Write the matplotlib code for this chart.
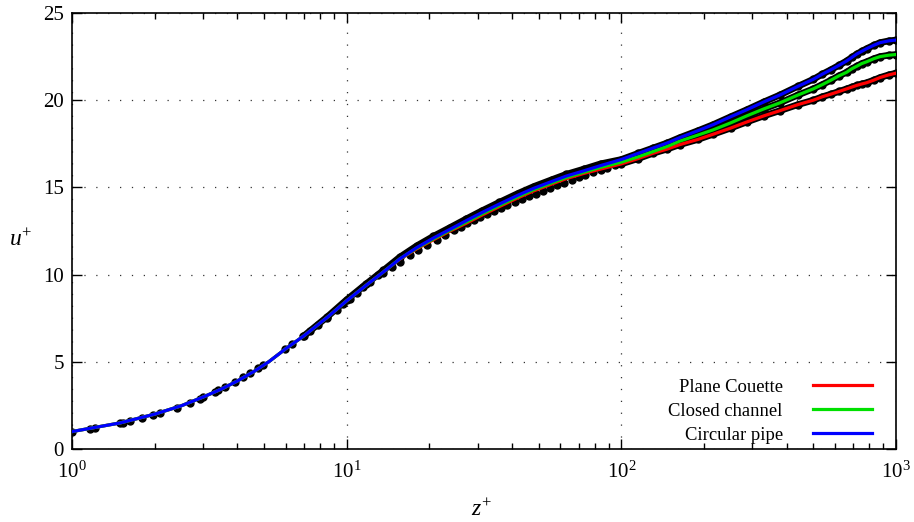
import numpy as np
import matplotlib
matplotlib.use('Agg')
import matplotlib.pyplot as plt
from matplotlib.ticker import LogLocator, LogFormatterMathtext, MultipleLocator, NullFormatter

plt.rcParams['font.family'] = ['Liberation Serif', 'DejaVu Serif']
plt.rcParams['mathtext.fontset'] = 'custom'
plt.rcParams['mathtext.rm'] = 'Liberation Serif'
plt.rcParams['mathtext.it'] = 'Liberation Serif:italic'
plt.rcParams['font.size'] = 13

# perfis de velocidade
z_wall = [1.0, 1.5, 2.0, 2.5, 3.0, 3.5, 4.0, 4.6, 5.2, 6.0, 7.0, 8.5, 10, 11.8,
          13.6, 15.6, 18, 20.7, 23.8, 27.3, 31, 36, 42, 48, 56, 63, 73, 84]
u_wall_pipe = [1.0, 1.5, 2.0, 2.48, 2.98, 3.44, 3.9, 4.45, 5.0, 5.75, 6.5, 7.55, 8.5, 9.4,
               10.15, 10.9, 11.55, 12.1, 12.6, 13.1, 13.55, 14.05, 14.55, 14.95, 15.35, 15.65, 15.95, 16.25]
u_wall_channel = [1.0, 1.5, 2.0, 2.48, 2.98, 3.44, 3.9, 4.45, 5.0, 5.75, 6.5, 7.55, 8.5, 9.4,
                  10.15, 10.9, 11.52, 12.05, 12.55, 13.02, 13.47, 13.97, 14.47, 14.87, 15.27, 15.57, 15.87, 16.15]
u_wall_couette = [1.0, 1.5, 2.0, 2.48, 2.98, 3.44, 3.9, 4.45, 5.0, 5.75, 6.5, 7.55, 8.5, 9.4,
                  10.15, 10.88, 11.48, 12.0, 12.5, 12.95, 13.4, 13.9, 14.4, 14.8, 15.2, 15.5, 15.8, 16.05]

z_outer = [100, 115, 130, 147, 163, 190, 216, 250, 286, 330, 378, 440, 500,
           540, 580, 620, 661, 690, 720, 750, 781, 830, 875, 940, 1000]
u_outer_pipe = [16.6, 16.95, 17.25, 17.55, 17.85, 18.25, 18.6, 19.05, 19.45, 19.9, 20.3, 20.8, 21.2,
                21.5, 21.75, 22.0, 22.25, 22.45, 22.65, 22.8, 22.95, 23.15, 23.3, 23.4, 23.45]
u_outer_channel = [16.45, 16.75, 17.05, 17.35, 17.65, 18.0, 18.3, 18.7, 19.1, 19.5, 19.85, 20.3, 20.65,
                   20.9, 21.15, 21.4, 21.6, 21.8, 21.95, 22.1, 22.2, 22.38, 22.5, 22.58, 22.62]
u_outer_couette = [16.35, 16.65, 16.95, 17.2, 17.45, 17.75, 18.05, 18.4, 18.75, 19.1, 19.4, 19.75, 20.0,
                   20.2, 20.35, 20.5, 20.65, 20.75, 20.85, 20.93, 21.0, 21.15, 21.3, 21.45, 21.55]

# pontos DNS perto da parede
dns_z_inner = [1.0, 1.163, 1.213, 1.496, 1.538, 1.626, 1.794, 1.977, 2.091, 2.406, 2.69, 2.924,
               3.006, 3.316, 3.41, 3.606, 3.922, 4.205, 4.446, 4.77, 4.97, 5.96, 6.31, 6.95, 7.35,
               7.88, 8.46, 9.2, 9.72, 10.28, 10.88, 11.49, 12.16, 13.04, 13.6, 14.58, 15.64, 17.01,
               18.23, 19.56, 21.27, 22.8, 24.5, 26, 27.5, 29, 30.5, 32.5, 34.5, 36.5, 38.5, 41, 43.5,
               46, 49, 52, 55, 58.5, 62, 66, 70, 74, 79, 84, 89, 94.5]
dns_u_inner = [0.99, 1.15, 1.2, 1.48, 1.52, 1.61, 1.78, 1.96, 2.07, 2.38, 2.66, 2.89,
               2.97, 3.27, 3.36, 3.55, 3.85, 4.12, 4.35, 4.65, 4.84, 5.72, 6.0, 6.47, 6.75,
               7.12, 7.5, 7.98, 8.3, 8.62, 8.95, 9.27, 9.6, 9.95, 10.12, 10.45, 10.75, 11.1,
               11.4, 11.68, 12.0, 12.27, 12.55, 12.75, 12.95, 13.12, 13.28, 13.48, 13.66, 13.83, 13.98, 14.16, 14.33,
               14.48, 14.65, 14.81, 14.96, 15.12, 15.27, 15.43, 15.57, 15.71, 15.86, 16.0, 16.13, 16.27]
dns_z_pipe_log = [7.0, 8.5, 10, 11.8, 13.6, 15.6, 18, 20.7, 23.8, 27.3, 31, 36, 42, 48, 56, 63, 73, 84]
dns_u_pipe_log = [6.5, 7.58, 8.56, 9.48, 10.24, 11.0, 11.65, 12.2, 12.7, 13.2, 13.65, 14.15, 14.65, 15.05,
                  15.45, 15.75, 16.05, 16.35]

legendas = ['Plane Couette', 'Closed channel', 'Circular pipe']
cores = ['#ff0000', '#00e000', '#0000ff']

fig = plt.figure(figsize=(9.14, 5.22), dpi=100)
ax = fig.add_axes([0.0788, 0.1398, 0.9015, 0.8353])

# DNS (pontos pretos)
ax.plot(dns_z_inner, dns_u_inner, 'o', color='k', ms=5, zorder=2)
ax.plot(dns_z_pipe_log + z_outer, dns_u_pipe_log + u_outer_pipe, 'o-', color='k', ms=5, lw=4.8, zorder=2)
for u_dns in [u_outer_channel, u_outer_couette]:
    ax.plot(z_outer, u_dns, 'o-', color='k', ms=5, lw=4.8, zorder=2)

# modelos
modelos = [u_wall_couette + u_outer_couette,
           u_wall_channel + u_outer_channel,
           u_wall_pipe + u_outer_pipe]
for u_mod, cor, nome in zip(modelos, cores, legendas):
    ax.plot(z_wall + z_outer, u_mod, '-', color=cor, lw=2.3, label=nome, zorder=3)

ax.set_xscale('log')
ax.set_xlim(1, 1000)
ax.set_ylim(0, 25)
ax.xaxis.set_major_locator(LogLocator(base=10, numticks=10))
ax.xaxis.set_major_formatter(LogFormatterMathtext())
ax.xaxis.set_minor_locator(LogLocator(base=10, subs=np.arange(2, 10), numticks=20))
ax.xaxis.set_minor_formatter(NullFormatter())
ax.yaxis.set_major_locator(MultipleLocator(5))

ax.tick_params(which='both', direction='in', top=True, right=True, width=1.0, labelsize=15)
ax.tick_params(which='major', length=7)
ax.tick_params(axis='x', which='major', pad=9)
ax.tick_params(axis='y', which='major', pad=6)
ax.tick_params(which='minor', length=4)
for s in ax.spines.values():
    s.set_linewidth(1.2)

ax.grid(True, which='major', color='0.2', lw=0.9, ls=(0, (1, 8.5)))

ax.set_xlabel(r'$z^{+}$', fontsize=17)
ax.xaxis.set_label_coords(0.497, -0.115)
ax.set_ylabel(r'$u^{+}$', fontsize=17, rotation=0)
ax.yaxis.set_label_coords(-0.062, 0.455)

ax.legend(loc='lower right', bbox_to_anchor=(0.971, 0.012), frameon=False, markerfirst=False,
          handlelength=3.2, handletextpad=1.6, labelspacing=0.38, borderpad=0, borderaxespad=0,
          fontsize=13.4)

plt.savefig('out.png', dpi=100)
